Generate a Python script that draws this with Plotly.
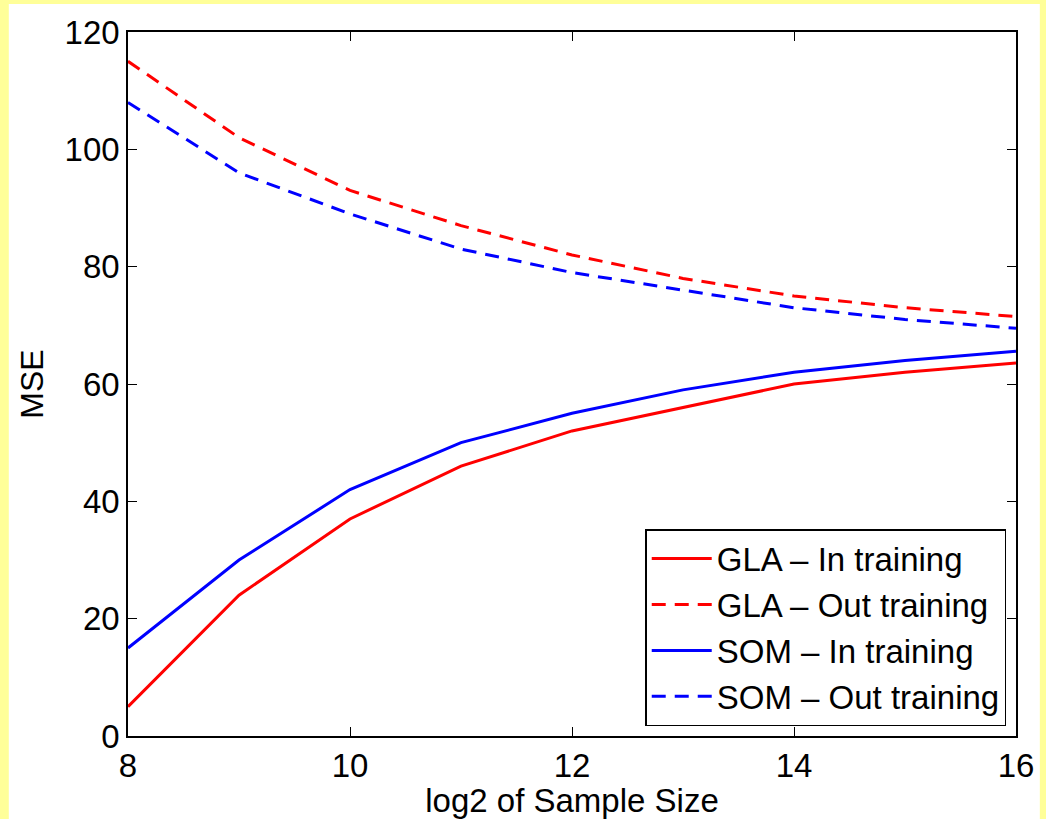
import plotly.graph_objects as go

x_vals = [8, 9, 10, 11, 12, 13, 14, 15, 16]
gla_in = [5, 24, 37, 46, 52, 56, 60, 62, 63.6]
gla_out = [115, 102, 93, 87, 82, 78, 75, 73, 71.5]
som_in = [15, 30, 42, 50, 55, 59, 62, 64, 65.6]
som_out = [108, 96, 89, 83, 79, 76, 73, 71, 69.5]

series = [
    ("GLA \u2013 In training", gla_in, "#FF0000", "solid"),
    ("GLA \u2013 Out training", gla_out, "#FF0000", "14px,9px"),
    ("SOM \u2013 In training", som_in, "#0000FF", "solid"),
    ("SOM \u2013 Out training", som_out, "#0000FF", "14px,9px"),
]

fig = go.Figure()
for name, ys, col, dash in series:
    fig.add_trace(go.Scatter(x=x_vals, y=ys, mode="lines", name=name,
                             line=dict(color=col, width=3, dash=dash)))

W, H = 1046, 819
ml, mr, mt, mb = 128, 1046 - 1022, 32, 819 - 736
pw, ph = W - ml - mr, H - mt - mb

def px(xp):
    return (xp - ml) / pw

def py(yp):
    return (H - mb - yp) / ph

fig.add_shape(type="rect", xref="paper", yref="paper",
              x0=px(8), x1=px(1046), y0=py(819), y1=py(4),
              fillcolor="white", line=dict(width=0), layer="below")

axis_common = dict(showgrid=False, zeroline=False, showline=True, linecolor="black",
                   linewidth=1.5, mirror="ticks", ticks="inside", ticklen=9,
                   tickcolor="black", tickfont=dict(size=33, color="black"))

fig.update_xaxes(range=[8, 16], tickvals=[8, 10, 12, 14, 16],
                 title=dict(text="log2 of Sample Size", font=dict(size=33, color="black"), standoff=0),
                 **axis_common)
fig.update_yaxes(range=[0, 120], tickvals=[0, 20, 40, 60, 80, 100, 120],
                 title=dict(text="MSE", font=dict(size=32, color="black"), standoff=11),
                 **axis_common)

fig.update_layout(
    width=W, height=H,
    margin=dict(l=ml, r=mr, t=mt, b=mb),
    paper_bgcolor="#FFFF99", plot_bgcolor="white",
    font=dict(family="Liberation Sans, Arial, sans-serif", color="black"),
    legend=dict(x=0.989, y=0.014, xanchor="right", yanchor="bottom",
                bgcolor="white", bordercolor="black", borderwidth=1.5,
                font=dict(size=33, color="black"), tracegroupgap=0,
                itemwidth=60),
)

fig.write_html("out.html")
